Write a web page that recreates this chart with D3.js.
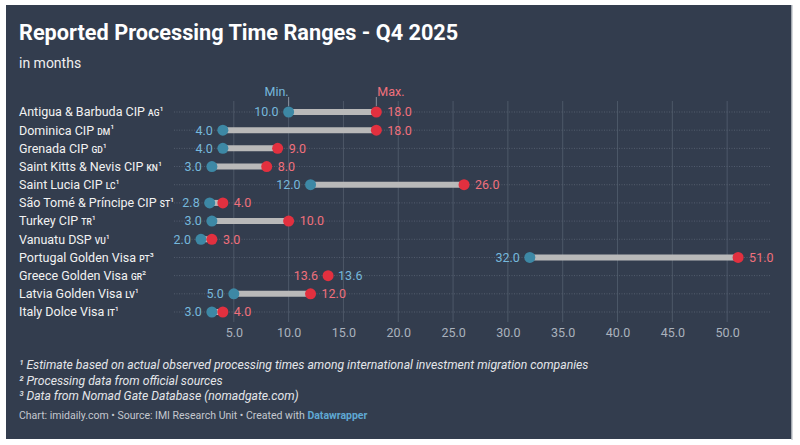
<!DOCTYPE html>
<html>
<head>
<meta charset="utf-8">
<script src="https://cdn.jsdelivr.net/npm/d3@7"></script>
<style>
  body { margin: 0; background: #fff; }
  svg { display: block; font-family: Roboto, "Noto Sans", sans-serif; }
</style>
</head>
<body>
<svg id="chart" width="800" height="445"></svg>
<script>
// data
const programs = ["Antigua & Barbuda CIP", "Dominica CIP", "Grenada CIP", "Saint Kitts & Nevis CIP",
  "Saint Lucia CIP", "São Tomé & Príncipe CIP", "Turkey CIP", "Vanuatu DSP",
  "Portugal Golden Visa", "Greece Golden Visa", "Latvia Golden Visa", "Italy Dolce Visa"];
const codes = ["AG", "DM", "GD", "KN", "LC", "ST", "TR", "VU", "PT", "GR", "LV", "IT"];
const notes = ["¹", "¹", "¹", "¹", "¹", "¹", "¹", "¹", "³", "²", "¹", "¹"];
const minValues = [10, 4, 4, 3, 12, 2.8, 3, 2, 32, 13.6, 5, 3];
const maxValues = [18, 18, 9, 8, 26, 4, 10, 3, 51, 13.6, 12, 4];
const xTicks = [5, 10, 15, 20, 25, 30, 35, 40, 45, 50];
const footnotes = [
  "¹ Estimate based on actual observed processing times among international investment migration companies",
  "² Processing data from official sources",
  "³ Data from Nomad Gate Database (nomadgate.com)"
];

const rows = programs.map((p, i) => ({ name: p, code: codes[i], note: notes[i], min: minValues[i], max: maxValues[i] }));

const svg = d3.select("#chart");

const bg = "#333d4e";
const minDot = "#3d88a5", maxDot = "#e2303f";
const minText = "#76b8dc", maxText = "#f0707c";

svg.append("rect").attr("x", 6).attr("y", 5).attr("width", 786).attr("height", 434).attr("fill", bg);
svg.append("line").attr("x1", 792).attr("x2", 792).attr("y1", 5).attr("y2", 440)
  .attr("stroke", "#c8ccd2").attr("stroke-width", 1.5);

// title block
svg.append("text").attr("x", 19).attr("y", 40).attr("fill", "#fff")
  .attr("font-size", 21.7).attr("font-weight", 700).text("Reported Processing Time Ranges - Q4 2025");
svg.append("text").attr("x", 19).attr("y", 68).attr("fill", "#f0f0f0")
  .attr("font-size", 14).text("in months");

const x = d3.scaleLinear().domain([0, 54]).range([179, 771]);
const y = d3.scalePoint().domain(programs).range([112, 312]);

// vertical grid
svg.append("g").selectAll("line").data(xTicks).join("line")
  .attr("x1", d => x(d)).attr("x2", d => x(d))
  .attr("y1", 101).attr("y2", 322)
  .attr("stroke", "#4d5868").attr("stroke-width", 1);

// x axis tick labels
const xAxis = svg.append("g").attr("transform", "translate(0,325)")
  .call(d3.axisBottom(x).tickValues(xTicks).tickFormat(d3.format(".1f")).tickSize(0));
xAxis.select(".domain").remove();
xAxis.selectAll("text").attr("fill", "#aab2bd").attr("font-size", 12.5).attr("dy", "0.71em")
  .attr("font-family", "Roboto, sans-serif");

// dotted row lines
svg.append("g").selectAll("line").data(rows).join("line")
  .attr("x1", 174).attr("x2", 771)
  .attr("y1", d => y(d.name)).attr("y2", d => y(d.name))
  .attr("stroke", "#5a6575").attr("stroke-width", 0.8).attr("stroke-dasharray", "1,1.5");

// row labels
const labels = svg.append("g").selectAll("text").data(rows).join("text")
  .attr("x", 19).attr("y", d => y(d.name)).attr("dy", "0.35em")
  .attr("fill", "#f2f2f2").attr("font-size", 12.5);
labels.append("tspan").text(d => d.name + " ");
labels.append("tspan").attr("font-size", 8.5).attr("font-weight", 500).text(d => d.code);
labels.append("tspan").attr("font-size", 11).attr("dy", "-0.1em").text(d => d.note);

// range bars
svg.append("g").selectAll("line").data(rows.filter(d => d.max > d.min)).join("line")
  .attr("x1", d => x(d.min)).attr("x2", d => x(d.max))
  .attr("y1", d => y(d.name)).attr("y2", d => y(d.name))
  .attr("stroke", "#b9b9b9").attr("stroke-width", 6);

// dots
svg.append("g").selectAll("circle").data(rows.filter(d => d.max > d.min)).join("circle")
  .attr("cx", d => x(d.min)).attr("cy", d => y(d.name)).attr("r", 5.5).attr("fill", minDot);
svg.append("g").selectAll("circle").data(rows).join("circle")
  .attr("cx", d => x(d.max)).attr("cy", d => y(d.name)).attr("r", 5.5).attr("fill", maxDot);

// value labels (equal values: max on left, min on right)
const fmt = d3.format(".1f");
svg.append("g").selectAll("text").data(rows).join("text")
  .attr("x", d => d.max > d.min ? x(d.min) - 10 : x(d.min) + 10)
  .attr("y", d => y(d.name)).attr("dy", "0.35em")
  .attr("text-anchor", d => d.max > d.min ? "end" : "start")
  .attr("fill", minText).attr("font-size", 12.5).text(d => fmt(d.min));
svg.append("g").selectAll("text").data(rows).join("text")
  .attr("x", d => d.max > d.min ? x(d.max) + 11 : x(d.max) - 10)
  .attr("y", d => y(d.name)).attr("dy", "0.35em")
  .attr("text-anchor", d => d.max > d.min ? "start" : "end")
  .attr("fill", maxText).attr("font-size", 12.5).text(d => fmt(d.max));

// Min. / Max. key on first row
const first = rows[0];
svg.append("line").attr("x1", x(first.min)).attr("x2", x(first.min)).attr("y1", 97).attr("y2", 106)
  .attr("stroke", "#8a929e").attr("stroke-width", 1);
svg.append("line").attr("x1", x(first.max)).attr("x2", x(first.max)).attr("y1", 97).attr("y2", 106)
  .attr("stroke", "#8a929e").attr("stroke-width", 1);
svg.append("text").attr("x", x(first.min)).attr("y", 96).attr("text-anchor", "end")
  .attr("fill", minText).attr("font-size", 12.5).text("Min.");
svg.append("text").attr("x", x(first.max) + 1).attr("y", 96).attr("text-anchor", "start")
  .attr("fill", maxText).attr("font-size", 12.5).text("Max.");

// footnotes
svg.append("g").selectAll("text").data(footnotes).join("text")
  .attr("x", 19).attr("y", (d, i) => 369 + i * 15.5)
  .attr("fill", "#e4e6ea").attr("font-size", 12.2).attr("font-style", "italic").text(d => d);

const src = svg.append("text").attr("x", 19).attr("y", 419).attr("fill", "#c4c8cf").attr("font-size", 10.5);
src.append("tspan").text("Chart: imidaily.com • Source: IMI Research Unit • Created with ");
src.append("tspan").attr("fill", "#5fa8d3").attr("font-weight", 700).text("Datawrapper");
</script>
</body>
</html>
